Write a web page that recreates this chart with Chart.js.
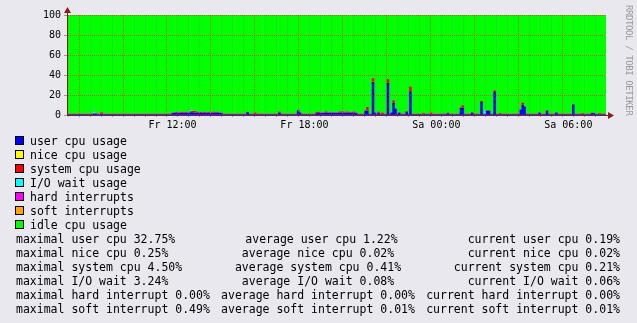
<!DOCTYPE html>
<html>
<head>
<meta charset="utf-8">
<script src="https://cdn.jsdelivr.net/npm/chart.js@4"></script>
<style>
  body { margin:0; background:#e8e8ee; width:637px; height:323px; overflow:hidden; position:relative; font-family:'DejaVu Sans Mono', monospace; color:#000; }
  #c { position:absolute; left:0; top:0; }
  #legend { position:absolute; left:0; top:134px; width:637px; font-size:11.5px; line-height:14px; }
  .row { position:relative; height:14px; white-space:pre; }
  .box { position:absolute; left:15px; top:2px; width:7px; height:7px; border:1px solid #000; }
  .lab { position:absolute; left:30px; top:0; }
  #stats { position:absolute; left:16px; top:232px; width:604px; font-size:11.5px; line-height:14px; }
  .srow { display:flex; justify-content:space-between; white-space:pre; height:14px; }
  #credit { position:absolute; left:622px; top:5px; width:13px; line-height:13px; writing-mode:vertical-rl; font-size:9px; letter-spacing:-0.4px; color:#999; white-space:pre; }
</style>
</head>
<body>
<canvas id="c" width="637" height="135"></canvas>
<div id="legend"></div>
<div id="stats"></div>
<div id="credit">RRDTOOL / TOBI OETIKER</div>
<script>
// 288 five-minute steps, starting Fr ~07:27
const startHour = 7.458;

// cpu usage in %, one value per step
const user = [
  0.5,0.5,0.5,0.5,0.5,0.5,0.5,0.5,0.5,0.5,0.5,0.5,0.5,0.5,1.0,1.0,0.5,0.5,0.8,0.5,0.5,0.5,0.5,0.5,
  0.5,0.5,0.5,0.5,0.5,0.5,0.5,0.5,0.5,0.5,0.5,0.5,0.5,0.5,0.5,0.5,0.5,0.5,0.5,0.5,0.5,0.5,0.5,0.5,
  0.5,0.5,0.5,0.5,0.5,0.5,0.5,0.5,1.6,1.8,1.8,1.7,1.8,1.8,1.7,1.8,1.8,2.0,2.5,2.2,2.0,1.8,1.8,1.7,
  1.8,1.8,1.7,1.8,1.8,1.8,1.9,2.0,1.8,1.8,1.6,0.5,0.5,0.5,0.5,0.5,0.5,0.5,0.5,0.5,0.5,0.5,0.5,0.5,
  2.5,0.5,0.5,0.5,0.5,0.5,0.5,0.5,0.5,0.5,0.5,0.5,0.5,0.5,0.5,0.5,0.5,2.0,0.5,0.5,0.5,0.5,0.5,0.5,
  0.5,0.5,0.5,4.3,2.0,0.5,0.5,0.5,0.5,0.5,0.5,0.5,0.5,1.6,1.8,1.8,1.6,1.8,2.0,1.8,1.8,2.0,1.8,1.8,
  1.8,2.0,2.0,2.0,1.8,2.0,1.8,2.0,1.8,2.0,1.6,0.5,0.5,0.5,0.5,4.0,4.0,0.5,0.5,32.75,2.0,0.5,2.0,0.5,
  0.5,0.5,0.5,32.0,0.5,2.0,12.0,6.0,0.5,2.0,0.5,0.5,0.5,3.0,0.5,23.5,0.5,0.5,0.5,0.5,0.5,0.5,0.5,0.5,
  0.5,0.5,0.5,0.5,0.5,0.5,0.5,0.5,0.5,0.5,0.5,1.5,0.5,0.5,0.5,0.5,0.5,0.5,7.0,7.0,0.5,0.5,0.5,0.5,
  2.0,0.5,0.5,0.5,0.5,12.7,0.5,0.5,4.0,4.0,0.5,0.5,22.7,0.5,0.5,0.5,0.5,0.5,0.5,0.5,0.5,0.5,0.5,0.5,
  0.5,0.5,5.0,10.0,8.0,0.5,0.5,0.5,0.5,0.5,0.5,0.5,2.0,0.5,0.5,0.5,4.0,0.5,0.5,0.5,0.5,2.0,0.5,0.5,
  0.5,0.5,0.5,0.5,0.5,0.5,10.0,0.5,0.5,0.5,0.5,0.5,0.5,0.5,0.5,0.5,1.5,1.5,0.5,0.5,0.5,0.5,0.5,0.5
];
const system = [
  0.3,0.3,0.3,0.3,0.3,0.3,0.3,0.3,0.3,0.3,0.3,0.3,0.3,0.3,0.3,0.3,0.3,0.3,1.5,0.3,0.3,0.3,0.3,0.3,
  0.3,0.3,0.3,0.3,0.3,0.3,0.3,0.3,0.3,0.3,0.3,0.3,0.3,0.3,0.3,0.3,0.3,0.3,0.3,0.3,0.3,0.3,0.3,0.3,
  0.3,0.3,0.3,0.3,0.3,0.3,0.3,0.3,0.3,0.3,1.0,0.3,0.3,1.0,0.3,1.0,0.3,0.3,1.0,1.5,1.5,1.0,0.3,1.0,
  0.3,1.0,0.3,0.8,0.3,0.3,1.0,0.3,1.0,0.3,0.3,0.3,0.3,0.3,0.3,0.3,0.3,0.3,0.3,0.3,0.3,0.3,0.3,0.3,
  0.3,0.3,0.3,0.3,1.5,0.3,0.3,0.3,0.3,0.3,0.3,0.3,0.3,0.3,0.3,0.3,0.3,1.0,0.3,0.3,0.3,0.3,0.3,0.3,
  0.3,0.3,0.3,0.3,0.3,0.3,0.3,0.3,0.3,0.3,0.3,0.3,0.3,1.0,1.0,0.3,0.3,0.3,1.2,0.3,0.3,0.3,0.3,0.3,
  0.3,1.0,1.0,1.0,0.3,1.0,1.0,0.3,1.0,1.0,0.3,0.3,0.3,0.3,0.3,0.3,3.7,0.3,0.3,3.5,0.3,0.3,1.0,0.3,
  1.5,0.3,0.3,3.5,0.3,0.3,2.3,0.3,0.3,0.3,0.3,0.3,0.3,0.5,0.3,4.5,0.3,0.3,0.3,0.3,0.3,0.3,1.0,0.3,
  0.3,0.3,1.5,0.3,0.3,0.3,0.3,0.3,0.3,0.3,0.3,0.3,0.3,0.3,0.3,0.3,0.3,0.3,0.3,2.3,0.3,0.3,0.3,0.3,
  0.3,0.3,0.3,0.3,0.3,1.0,0.3,0.3,0.3,0.3,0.3,0.3,1.6,0.3,0.3,1.0,0.3,0.3,0.3,0.3,0.3,0.3,0.3,0.3,
  0.3,0.3,0.3,2.0,0.3,0.3,0.3,0.3,0.3,0.3,0.3,0.3,0.3,0.3,0.3,0.3,0.7,0.3,0.3,0.3,0.3,0.3,0.3,0.3,
  0.3,0.3,0.3,0.3,0.3,0.3,0.7,0.3,0.3,0.3,0.3,1.0,0.3,0.3,0.3,0.3,0.3,0.3,0.3,0.3,1.0,0.3,0.3,0.3
];
// the rarely used ones: [step, value]
const nicePeaks = [[163, 0.25]];
const iowaitPeaks = [[14, 2.0], [15, 1.0], [66, 1.5], [223, 3.24]];
const hardPeaks = [];
const softPeaks = [[163, 0.49]];

const seriesNames = ['user cpu usage', 'nice cpu usage', 'system cpu usage', 'I/O wait usage', 'hard interrupts', 'soft interrupts', 'idle cpu usage'];
const seriesColors = ['#0000ff', '#ffff00', '#ff0000', '#00ffff', '#ff00ff', '#ffa500', '#00ff00'];

const timeTicks = [12, 18, 24, 30];
const timeTickLabels = ['Fr 12:00', 'Fr 18:00', 'Sa 00:00', 'Sa 06:00'];

const statNames = ['user cpu', 'nice cpu', 'system cpu', 'I/O wait', 'hard interrupt', 'soft interrupt'];
const maxPct = [32.75, 0.25, 4.50, 3.24, 0.00, 0.49];
const avgPct = [1.22, 0.02, 0.41, 0.08, 0.00, 0.01];
const curPct = [0.19, 0.02, 0.21, 0.06, 0.00, 0.01];

function fromPeaks(list) {
  const arr = user.map(() => 0);
  list.forEach(p => { arr[p[0]] = p[1]; });
  return arr;
}
const nice = fromPeaks(nicePeaks);
const iowait = fromPeaks(iowaitPeaks);
const hard = fromPeaks(hardPeaks);
const soft = fromPeaks(softPeaks);
const idle = user.map((u, i) => 100 - u - nice[i] - system[i] - iowait[i] - hard[i] - soft[i]);

const stepHours = 24 / user.length;
const labels = user.map((_, i) => startHour + (i + 0.5) * stepHours);
const all = [user, nice, system, iowait, hard, soft, idle];

const font = { family: 'DejaVu Sans Mono', size: 10 };
const red = 'rgba(255,40,40,0.7)';
const grey = 'rgba(120,120,120,0.4)';

const arrows = {
  id: 'arrows',
  afterDraw(chart) {
    const ctx = chart.ctx, a = chart.chartArea;
    ctx.save();
    ctx.strokeStyle = '#802020';
    ctx.fillStyle = '#8b1a1a';
    ctx.lineWidth = 1;
    ctx.beginPath();
    ctx.moveTo(a.left + 0.5, a.top); ctx.lineTo(a.left + 0.5, a.top - 3);
    ctx.moveTo(a.right, a.bottom + 0.5); ctx.lineTo(a.right + 3, a.bottom + 0.5);
    ctx.stroke();
    ctx.beginPath();
    ctx.moveTo(a.left - 3, a.top - 2); ctx.lineTo(a.left + 4, a.top - 2); ctx.lineTo(a.left + 0.5, a.top - 8);
    ctx.fill();
    ctx.beginPath();
    ctx.moveTo(a.right + 2, a.bottom - 3); ctx.lineTo(a.right + 2, a.bottom + 4); ctx.lineTo(a.right + 8, a.bottom + 0.5);
    ctx.fill();
    ctx.restore();
  }
};

new Chart(document.getElementById('c'), {
  type: 'bar',
  data: {
    labels: labels,
    datasets: all.map((d, i) => ({
      label: seriesNames[i],
      data: d,
      backgroundColor: seriesColors[i],
      borderWidth: 0,
      barPercentage: 1,
      categoryPercentage: 1,
      xAxisID: 'x'
    }))
  },
  options: {
    responsive: false,
    animation: false,
    events: [],
    layout: { padding: { top: 15, right: 31, left: 0, bottom: 0 } },
    plugins: { legend: { display: false }, tooltip: { enabled: false } },
    scales: {
      x: { display: false, stacked: true, offset: true },
      xt: {
        type: 'linear', position: 'bottom',
        min: startHour, max: startHour + 24,
        afterBuildTicks: s => {
          s.ticks = [];
          for (let h = 7.5; h <= startHour + 24; h += 0.5) s.ticks.push({ value: h });
        },
        afterFit: s => { s.height = 20; },
        grid: {
          z: 1, lineWidth: 1, tickLength: 2, tickColor: '#999',
          color: c => (c.tick && c.tick.value % 2 === 0) ? red : grey
        },
        border: { z: 2, color: '#802020', width: 1, dash: [1, 1] },
        ticks: {
          autoSkip: false, maxRotation: 0, padding: 2, color: '#000', font: font,
          callback: v => { const k = timeTicks.indexOf(v); return k >= 0 ? timeTickLabels[k] : ''; }
        }
      },
      y: {
        stacked: true, min: 0, max: 100,
        afterBuildTicks: s => {
          s.ticks = [];
          for (let v = 0; v <= 100; v += 10) s.ticks.push({ value: v });
        },
        afterFit: s => { s.width = 67; },
        grid: {
          z: 1, lineWidth: 1, tickLength: 3, tickColor: '#999',
          color: c => (c.tick && c.tick.value % 20 === 0) ? red : grey
        },
        border: { z: 2, color: '#802020', width: 1, dash: [1, 1] },
        ticks: {
          padding: 3, color: '#000', font: font,
          callback: v => v % 20 === 0 ? String(v) : ''
        }
      }
    }
  },
  plugins: [arrows]
});

// legend and summary lines under the graph
const legend = document.getElementById('legend');
seriesNames.forEach((n, i) => {
  const row = document.createElement('div');
  row.className = 'row';
  row.innerHTML = '<span class="box" style="background:' + seriesColors[i] + '"></span><span class="lab">' + n + '</span>';
  legend.appendChild(row);
});
const stats = document.getElementById('stats');
statNames.forEach((n, i) => {
  const row = document.createElement('div');
  row.className = 'srow';
  [['maximal', maxPct], ['average', avgPct], ['current', curPct]].forEach(p => {
    const s = document.createElement('span');
    s.textContent = p[0] + ' ' + n + ' ' + p[1][i].toFixed(2) + '%';
    row.appendChild(s);
  });
  stats.appendChild(row);
});
</script>
</body>
</html>
